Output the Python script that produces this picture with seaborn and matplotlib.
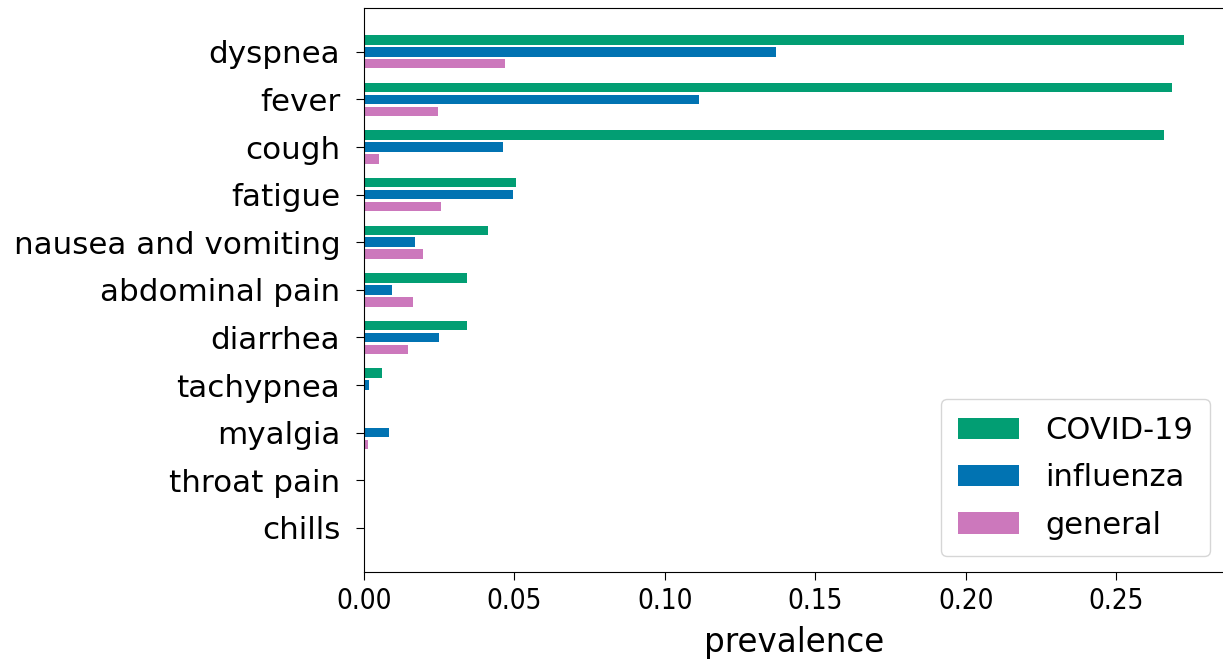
import matplotlib
matplotlib.use("Agg")
import matplotlib.pyplot as plt
import seaborn as sns
import pandas as pd

symptoms = ["dyspnea", "fever", "cough", "fatigue", "nausea and vomiting",
            "abdominal pain", "diarrhea", "tachypnea", "myalgia",
            "throat pain", "chills"]
groups = ["COVID-19", "influenza", "general"]

covid = [0.2726, 0.2685, 0.2660, 0.0505, 0.0411, 0.0342, 0.0342, 0.0059, 0.0, 0.0, 0.0]
influenza = [0.1370, 0.1114, 0.0463, 0.0497, 0.0170, 0.0093, 0.0248, 0.0016, 0.0084, 0.0, 0.0]
general = [0.0470, 0.0247, 0.0050, 0.0256, 0.0196, 0.0162, 0.0145, 0.0, 0.0012, 0.0, 0.0]

xticks = [0.0, 0.05, 0.10, 0.15, 0.20, 0.25]
xtick_labels = ["0.00", "0.05", "0.10", "0.15", "0.20", "0.25"]

df = pd.DataFrame({
    "symptom": symptoms * 3,
    "prevalence": covid + influenza + general,
    "group": [g for g in groups for _ in symptoms],
})

cb = sns.color_palette("colorblind")
palette = {"COVID-19": cb[2], "influenza": cb[0], "general": cb[4]}

fig = plt.figure(figsize=(12.23, 6.66), dpi=100)
ax = fig.add_axes([0.2976, 0.1416, 0.7040, 0.8464])

sns.barplot(data=df, x="prevalence", y="symptom", hue="group",
            order=symptoms, hue_order=groups, palette=palette,
            orient="y", width=0.75, gap=0.2, linewidth=0,
            saturation=1, ax=ax)

ax.set_xlim(0, 0.2862)
ax.set_ylim(len(symptoms) - 1 + 0.92, -0.92)
ax.set_xticks(xticks)
ax.set_xticklabels(xtick_labels, fontsize=20, fontstretch="condensed")
ax.tick_params(axis="y", labelsize=22.3, length=6, pad=11)
ax.tick_params(axis="x", length=6, pad=5)
ax.set_ylabel("")
ax.set_xlabel("prevalence", fontsize=23.5, labelpad=8)

leg = ax.legend(loc="lower right", fontsize=22, labelspacing=0.6,
                handletextpad=0.85, borderpad=0.55)
leg.set_title(None)

fig.savefig("out.png", dpi=100)
